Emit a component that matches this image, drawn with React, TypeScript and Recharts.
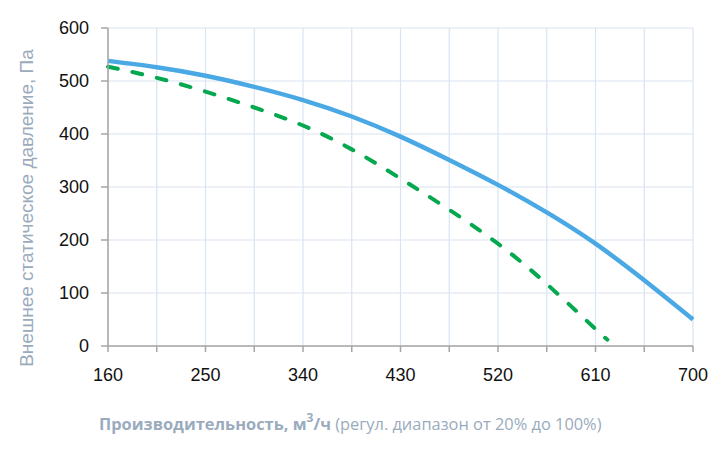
import { LineChart, Line, XAxis, YAxis, CartesianGrid } from 'recharts'

// расход, м3/ч
const flowTicks = [160, 205, 250, 295, 340, 385, 430, 475, 520, 565, 610, 655, 700]
const pressureTicks = [0, 100, 200, 300, 400, 500, 600]

// max speed curve
const maxFlow = [160, 205, 250, 295, 340, 385, 430, 475, 520, 565, 610, 655, 700]
const maxPressure = [538, 526, 510, 489, 464, 433, 395, 351, 304, 252, 193, 124, 50]

// reduced curve (dashed)
const redFlow = [160, 205, 250, 295, 340, 385, 430, 475, 520, 565, 610, 621]
const redPressure = [527, 506, 480, 450, 416, 371, 316, 257, 193, 117, 32, 12]

const maxData = maxFlow.map((q, i) => ({ q, p: maxPressure[i] }))
const redData = redFlow.map((q, i) => ({ q, p: redPressure[i] }))

const labelColor = '#9aabbd'

function YLabel() {
  return (
    <text
      x={0}
      y={0}
      transform="translate(33, 208) rotate(-90)"
      textAnchor="middle"
      fill={labelColor}
      fontSize={19}
      fontFamily="'Liberation Sans', Arial, sans-serif"
    >
      Внешнее статическое давление, Па
    </text>
  )
}

function XLabel() {
  return (
    <text x={99} y={430} fill={labelColor} fontSize={16.4} fontFamily="'Open Sans', sans-serif">
      <tspan fontWeight="bold">Производительность, м</tspan>
      <tspan fontWeight="bold" fontSize={12} dy={-8}>3</tspan>
      <tspan fontWeight="bold" dy={8}>/ч</tspan>
      <tspan> (регул. диапазон от 20% до 100%)</tspan>
    </text>
  )
}

export default function App() {
  return (
    <div style={{ position: 'absolute', left: 0, top: 0 }}>
      <LineChart width={727} height={453} margin={{ top: 28, right: 34, bottom: 47, left: 0 }}>
        <CartesianGrid stroke="#d9e4f2" strokeWidth={1.2} />
        <XAxis
          dataKey="q"
          type="number"
          domain={[160, 700]}
          ticks={flowTicks}
          allowDuplicatedCategory={false}
          tickFormatter={(v: number) => ((v - 160) % 90 === 0 ? String(v) : '')}
          height={60}
          tickSize={6}
          tickMargin={16}
          stroke="#a6a6a6"
          strokeWidth={1.5}
          tick={{ fontSize: 18, fill: '#111', fontFamily: "'Liberation Sans', Arial, sans-serif" }}
          label={{ content: () => <XLabel /> }}
        />
        <YAxis
          type="number"
          domain={[0, 600]}
          ticks={pressureTicks}
          width={108}
          tickSize={7}
          tickMargin={12}
          stroke="#a6a6a6"
          strokeWidth={1.5}
          tick={{ fontSize: 18, fill: '#111', fontFamily: "'Liberation Sans', Arial, sans-serif" }}
          label={{ content: () => <YLabel /> }}
        />
        <Line
          data={maxData}
          dataKey="p"
          type="natural"
          stroke="#4aa9e4"
          strokeWidth={4.5}
          dot={false}
          isAnimationActive={false}
        />
        <Line
          data={redData}
          dataKey="p"
          type="natural"
          stroke="#05a84f"
          strokeWidth={4}
          strokeDasharray="10 15"
          strokeLinecap="round"
          dot={false}
          isAnimationActive={false}
        />
      </LineChart>
    </div>
  )
}
